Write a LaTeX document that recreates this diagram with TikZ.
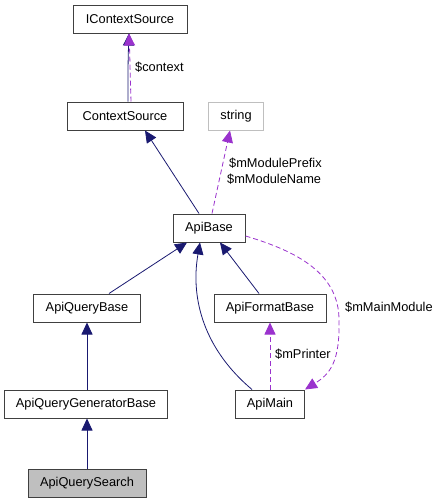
\documentclass[tikz,border=0pt]{standalone}
\usepackage{fontspec}
\setmainfont{Liberation Sans}
\usetikzlibrary{arrows.meta}
\definecolor{edgenavy}{HTML}{191970}
\definecolor{edgeorchid}{HTML}{9A32CD}
\definecolor{boxgray}{HTML}{BFBFBF}
\begin{document}
\begin{tikzpicture}[
                x=1pt, y=-1pt,
                font=\fontsize{12.8}{15}\selectfont,
                cls/.style={draw=black!75, line width=1pt, fill=white, minimum height=28pt, inner sep=0pt},
                inherit/.style={draw=edgenavy, line width=0.8pt, -{Triangle[length=12pt, width=11pt]}},
                usage/.style={draw=edgeorchid, line width=0.8pt, dashed, dash pattern=on 5pt off 3pt, -{Triangle[length=12pt, width=11pt]}},
                lbl/.style={anchor=west, inner sep=0pt, font=\fontsize{12.8}{15}\selectfont}
                ]
                \useasboundingbox (0,0) rectangle (439,504);
                % class boxes
                \node[cls, minimum width=114pt] (ics) at (130,19) {IContextSource};
                \node[cls, minimum width=116pt] (cs) at (125,116) {ContextSource};
                \node[cls, minimum width=55pt, draw=boxgray] (str) at (236,116) {string};
                \node[cls, minimum width=72pt] (ab) at (209,228) {ApiBase};
                \node[cls, minimum width=107pt] (aqb) at (87,308) {ApiQueryBase};
                \node[cls, minimum width=112pt] (afb) at (270,308) {ApiFormatBase};
                \node[cls, minimum width=163pt] (aqgb) at (86,404) {ApiQueryGeneratorBase};
                \node[cls, minimum width=69pt] (am) at (270,404) {ApiMain};
                \node[cls, minimum width=118pt, fill=boxgray] (aqs) at (87,483) {ApiQuerySearch};
                % inheritance
                \draw[inherit] ([xshift=3pt]cs.north) .. controls (128,70) and (128,60) .. ([xshift=-1pt]ics.south);
                \draw[inherit] ([xshift=-10pt]ab.north) -- ([xshift=20pt]cs.south);
                \draw[inherit] ([xshift=22pt]aqb.north) -- ([xshift=-22pt]ab.south);
                \draw[inherit] ([xshift=-11pt]afb.north) -- ([xshift=11pt]ab.south);
                \draw[inherit] ([xshift=-18pt]am.north) .. controls (205,350) and (190,300) .. ([xshift=-9pt]ab.south);
                \draw[inherit] ([xshift=1pt]aqgb.north) -- (aqb.south);
                \draw[inherit] (aqs.north) -- ([xshift=1pt]aqgb.south);
                % members
                \draw[usage] ([xshift=6pt]cs.north) .. controls (130,70) and (130,60) .. ([xshift=-1pt]ics.south);
                \node[lbl] (lctx) at (135,67) {\$context};
                \draw[usage] ([xshift=3pt]ab.north) -- ([xshift=-6pt]str.south);
                \node[lbl] (lpre) at (229,163) {\$mModulePrefix};
                \node[lbl] (lname) at (227,179) {\$mModuleName};
                \draw[usage] (am.north) -- (afb.south);
                \node[lbl] (lprn) at (275,354) {\$mPrinter};
                \draw[usage] ([yshift=-8pt]ab.east) .. controls (300,252) and (339,275) .. (339,320) .. controls (340,362) and (330,374) .. (am.north east);
                \node[lbl] (lmain) at (345,307) {\$mMainModule};
            \end{tikzpicture}
\end{document}
